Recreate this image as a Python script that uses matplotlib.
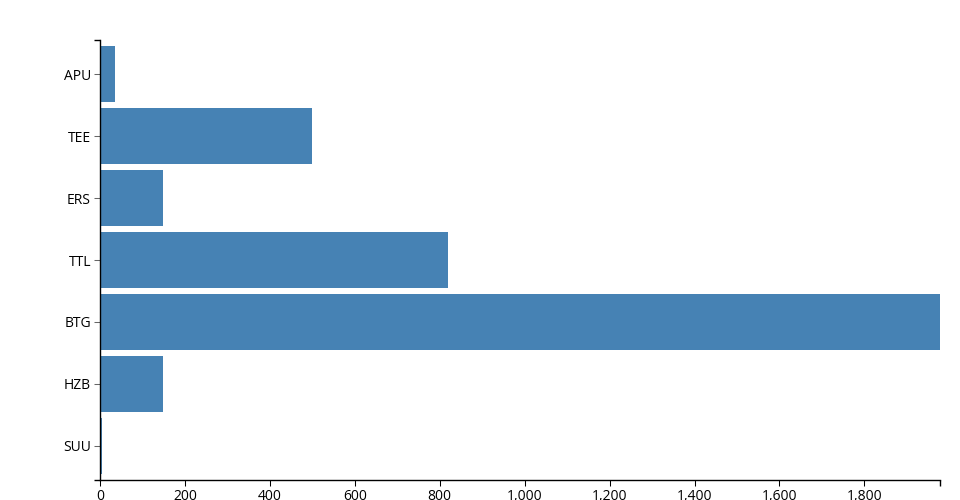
import matplotlib
matplotlib.use("Agg")
import matplotlib.pyplot as plt
from matplotlib.ticker import FuncFormatter

categories = ["APU", "TEE", "ERS", "TTL", "BTG", "HZB", "SUU"]
values = [35, 499, 149, 819, 1978, 148, 5]
x_ticks = [0, 200, 400, 600, 800, 1000, 1200, 1400, 1600, 1800]

plt.rcParams['font.family'] = ['Open Sans', 'DejaVu Sans']

fig = plt.figure(figsize=(9.6, 5.0), dpi=100)
ax = fig.add_axes([100/960, 1 - 480/500, 840/960, 440/500])

pos = list(range(len(categories)))
ax.barh(pos, values, height=0.9, color="#4682b4", edgecolor="none")

xmax = max(values)
ax.set_xlim(0, xmax)
ax.set_ylim(len(categories) - 1 + 0.55, -0.55)

ax.set_yticks(pos)
ax.set_yticklabels(categories)
ax.set_xticks(x_ticks)
ax.xaxis.set_major_formatter(FuncFormatter(lambda v, p: f"{int(v):,}"))

# outer end caps like d3 domain path
ax.set_xticks([0, xmax], minor=True)
ax.set_yticks([len(categories) - 1 + 0.55, -0.55], minor=True)

for s in ["top", "right"]:
    ax.spines[s].set_visible(False)
for s in ["left", "bottom"]:
    ax.spines[s].set_linewidth(1.0)
    ax.spines[s].set_color("black")

ax.tick_params(axis="both", which="major", length=4.32, width=0.75, pad=1.8,
               labelsize=10, colors="black")
ax.tick_params(axis="y", which="major", color="#666666", pad=2.2)
ax.tick_params(axis="both", which="minor", length=4.32, width=1.0, color="black")

fig.savefig("out.png", dpi=100)
